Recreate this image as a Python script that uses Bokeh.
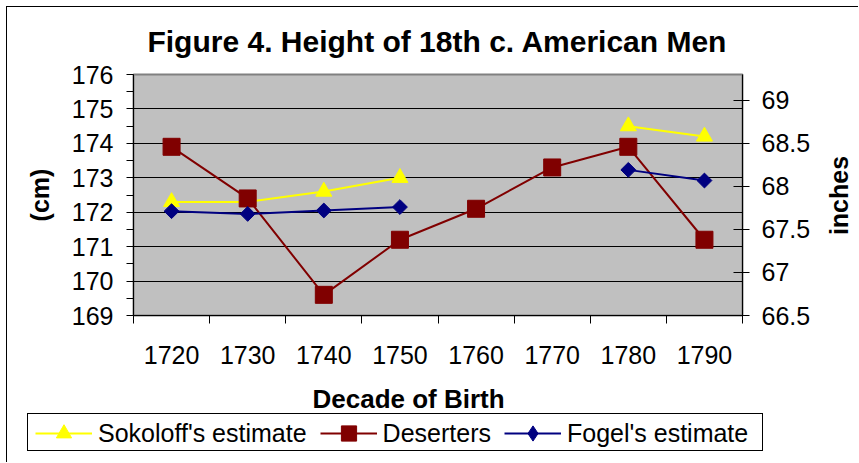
import math
from bokeh.plotting import figure
from bokeh.models import (Range1d, LinearAxis, FixedTicker, CustomJSTickFormatter,
                          NumeralTickFormatter, Legend, LegendItem, Title, Label,
                          ColumnDataSource)
from bokeh.embed import file_html
from bokeh.resources import INLINE

nan = float("nan")

# ---- data ----
decades = ["1720", "1730", "1740", "1750", "1760", "1770", "1780", "1790"]
sokoloff = [172.3, 172.3, 172.6, 173.0, nan, nan, 174.5, 174.2]
deserters = [173.9, 172.4, 169.6, 171.2, 172.1, 173.3, 173.9, 171.2]
fogel = [172.03, 171.95, 172.05, 172.15, nan, nan, 173.23, 172.92]
cm_ticks = [169, 170, 171, 172, 173, 174, 175, 176]
inch_ticks = [66.5, 67, 67.5, 68, 68.5, 69]
series_names = ["Sokoloff's estimate", "Deserters", "Fogel's estimate"]
chart_title = "Figure 4. Height of 18th c. American Men"

FONT = "Liberation Sans"
YEL, RED, BLU = "#FFFF00", "#800000", "#000080"

xpos = [i + 0.5 for i in range(len(decades))]
src = ColumnDataSource(dict(x=xpos, sok=sokoloff, des=deserters, fog=fogel))


def blank(width, height, left, top):
    """A small borderless figure used only to hold a text or the legend."""
    f = figure(width=width, height=height, output_backend="svg", toolbar_location=None,
               x_range=Range1d(0, 1), y_range=Range1d(0, 1), min_border=0,
               outline_line_color=None, border_fill_color="white",
               background_fill_color="white", x_axis_location=None, y_axis_location=None)
    f.grid.visible = False
    f.styles = {"position": "absolute", "left": f"{left}px", "top": f"{top}px"}
    return f


p = figure(width=852, height=456, output_backend="svg", toolbar_location=None,
           x_range=Range1d(0, len(decades)), y_range=Range1d(cm_ticks[0], cm_ticks[-1]),
           min_border_left=126, min_border_right=117, min_border_top=67, min_border_bottom=148,
           background_fill_color="#C0C0C0", border_fill_color="white",
           outline_line_color="#808080", outline_line_width=2)
p.styles = {"margin": "6px 0px 0px 6px", "border-left": "1px solid black",
            "border-top": "1px solid black"}
p.title.visible = False

# x axis: labels at category centres, ticks between categories
xa = p.xaxis[0]
xa.ticker = FixedTicker(ticks=xpos, minor_ticks=list(range(len(decades) + 1)))
xa.formatter = CustomJSTickFormatter(args=dict(labels=decades),
                                     code="return labels[Math.floor(tick)];")
xa.major_tick_line_color = None
xa.major_tick_out = 8
xa.major_tick_in = 0
xa.minor_tick_out = 8
xa.minor_tick_in = 0
xa.minor_tick_line_color = "black"
xa.axis_line_color = "black"
xa.major_label_standoff = 22
xa.major_label_text_font = FONT
xa.major_label_text_font_size = "25px"
xa.major_label_text_color = "black"

# left axis (cm)
ya = p.yaxis[0]
ya.ticker = FixedTicker(ticks=cm_ticks, minor_ticks=[t + 0.5 for t in cm_ticks[:-1]])
ya.major_tick_out = 7
ya.major_tick_in = 0
ya.minor_tick_out = 7
ya.minor_tick_in = 0
ya.major_tick_line_color = "black"
ya.minor_tick_line_color = "black"
ya.axis_line_color = "black"
ya.major_label_standoff = 13
ya.major_label_text_font = FONT
ya.major_label_text_font_size = "25px"
ya.major_label_text_color = "black"
ya.axis_label = "(cm)"
ya.axis_label_text_font = FONT
ya.axis_label_text_font_size = "25px"
ya.axis_label_text_font_style = "bold"
ya.axis_label_text_color = "black"
ya.axis_label_standoff = 15

# right axis (inches); its title is drawn separately below
p.extra_y_ranges = {"inches": Range1d(66.5, 69.3)}
ra = LinearAxis(y_range_name="inches", ticker=FixedTicker(ticks=inch_ticks),
                formatter=NumeralTickFormatter(format="0.[0]"),
                major_tick_in=9, major_tick_out=7, minor_tick_line_color=None,
                axis_line_color="black", major_tick_line_color="black",
                major_label_standoff=12, major_label_text_font=FONT,
                major_label_text_font_size="25px", major_label_text_color="black")
p.add_layout(ra, "right")

# grid
p.xgrid.visible = False
p.ygrid.ticker = FixedTicker(ticks=cm_ticks)
p.ygrid.grid_line_color = "black"
p.ygrid.grid_line_width = 1

# x axis title (left-aligned with an offset, like the reference)
p.add_layout(Title(text="Decade of Birth", align="left", offset=179, standoff=31,
                   text_font=FONT, text_font_size="26px", text_font_style="bold",
                   text_color="black"), "below")


# series
def draw(fig, col, color, marker, size, angle=0.0):
    ln = fig.line("x", col, source=src, line_color=color, line_width=2)
    mk = fig.scatter("x", col, source=src, marker=marker, size=size, angle=angle,
                     fill_color=color, line_color=color)
    return ln, mk


styles = [("sok", YEL, "triangle", 16, 0.0),
          ("des", RED, "square", 17, 0.0),
          ("fog", BLU, "square", 10.5, math.pi / 4)]
for st in styles:
    draw(p, *st)

# chart title
tf = blank(720, 44, 77, 19)
tf.add_layout(Label(x=0.5, y=0.5, text=chart_title, text_align="center",
                    text_baseline="middle", text_font=FONT, text_font_size="30px",
                    text_font_style="bold", text_color="black"))

# right axis title "inches" (reads bottom-to-top)
ti = blank(34, 110, 821, 140)
ti.add_layout(Label(x=0.5, y=0.5, text="inches", angle=math.pi / 2,
                    text_align="center", text_baseline="middle", text_font=FONT,
                    text_font_size="25px", text_font_style="bold", text_color="black"))

# legend strip over the blank bottom of the chart
lf = blank(736, 38, 27, 413)
lf.x_range = Range1d(-100, -99)
lf.y_range = Range1d(-100, -99)
lf.styles = {"position": "absolute", "left": "27px", "top": "413px",
             "border": "1px solid black"}
legend_styles = [("sok", YEL, "triangle", 16, 0.0),
                 ("des", RED, "square", 17, 0.0),
                 ("fog", BLU, "diamond", 16, 0.0)]
items = []
for name, st in zip(series_names, legend_styles):
    ln, mk = draw(lf, *st)
    items.append(LegendItem(label=name, renderers=[ln, mk]))
legend = Legend(items=items, orientation="horizontal", location=(7, 0),
                border_line_color=None, background_fill_alpha=0,
                label_text_font=FONT, label_text_font_size="25px",
                label_text_color="black",
                glyph_width=57, glyph_height=38, label_standoff=6, spacing=13,
                padding=0, margin=0)
lf.add_layout(legend, "center")

open("out.html", "w").write(file_html([p, tf, ti, lf], INLINE))
